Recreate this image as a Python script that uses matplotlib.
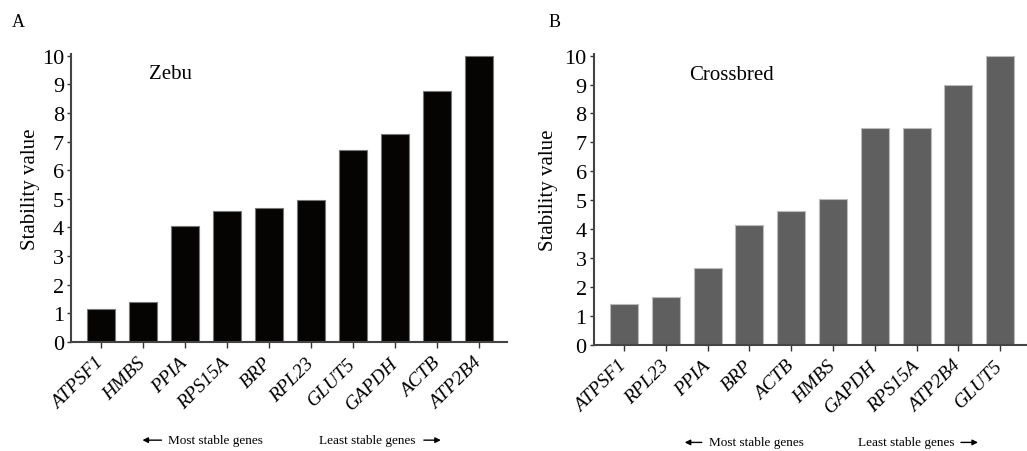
import matplotlib.pyplot as plt
from matplotlib.patches import FancyArrowPatch

zebu_genes = ["ATPSF1", "HMBS", "PPIA", "RPS15A", "BRP", "RPL23", "GLUT5", "GAPDH", "ACTB", "ATP2B4"]
zebu_values = [1.17, 1.41, 4.04, 4.57, 4.69, 4.97, 6.70, 7.25, 8.75, 10.0]

cross_genes = ["ATPSF1", "RPL23", "PPIA", "BRP", "ACTB", "HMBS", "GAPDH", "RPS15A", "ATP2B4", "GLUT5"]
cross_values = [1.40, 1.66, 2.64, 4.15, 4.62, 5.04, 7.49, 7.49, 9.0, 10.0]

plt.rcParams['font.family'] = ['Liberation Serif', 'DejaVu Serif']

figure = plt.figure(figsize=(10.27, 4.52), dpi=100)
ax_a = figure.add_axes([0.069, 0.241, 0.425, 0.637])
ax_b = figure.add_axes([0.578, 0.235, 0.421, 0.643])


def draw_panel(axes, genes, values, color, edge, title, title_x, xlim, label_x):
    positions = range(len(genes))
    axes.bar(positions, values, width=0.67, color=color, edgecolor=edge, linewidth=0.8)
    axes.set_xlim(*xlim)
    axes.set_ylim(0, 10.05)
    axes.set_yticks(range(0, 11))
    axes.set_xticks(list(positions))
    axes.set_xticklabels(genes, rotation=45, ha="right", va="center",
                         rotation_mode="anchor", fontstyle="italic", fontsize=14)
    axes.tick_params(axis="x", length=4, width=1, pad=9, color="#333333")
    axes.tick_params(axis="y", length=3, width=1, labelsize=16, pad=2, color="#333333")
    for side in ("top", "right"):
        axes.spines[side].set_visible(False)
    for side in ("left", "bottom"):
        axes.spines[side].set_color("#444444")
        axes.spines[side].set_linewidth(1.5)
    axes.set_ylabel("Stability value", fontsize=15)
    axes.yaxis.set_label_coords(label_x, 0.535)
    axes.text(title_x, 9.2, title, fontsize=15)


draw_panel(ax_a, zebu_genes, zebu_values, "#060303", "#777777", "Zebu", 1.15, (-0.72, 9.67), -0.07)
draw_panel(ax_b, cross_genes, cross_values, "#5e5f5e", "#bbbbbb", "Crossbred", 1.55, (-0.73, 9.62), -0.083)

figure.text(0.012, 0.94, "A", fontsize=13)
figure.text(0.534, 0.94, "B", fontsize=13)

# direction hints under each panel
for x_arrow, x_most, x_least, x_head, y in [
    (0.136, 0.164, 0.311, 0.432, 0.024),
    (0.664, 0.690, 0.835, 0.955, 0.019),
]:
    figure.text(x_most, y, "Most stable genes", fontsize=9.5, va="center")
    figure.text(x_least, y, "Least stable genes", fontsize=9.5, va="center")
    figure.patches.append(FancyArrowPatch(
        (x_most - 0.004, y), (x_arrow, y), transform=figure.transFigure,
        arrowstyle="-|>", mutation_scale=8, color="black", linewidth=1))
    figure.patches.append(FancyArrowPatch(
        (x_head - 0.022, y), (x_head, y), transform=figure.transFigure,
        arrowstyle="-|>", mutation_scale=8, color="black", linewidth=1))

figure.savefig("out.png", dpi=100)
